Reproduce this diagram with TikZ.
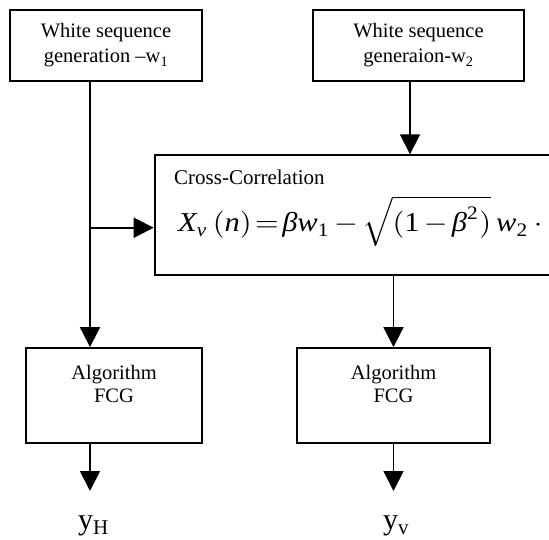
\documentclass[tikz,border=0pt]{standalone}
\usepackage{amsmath}
\usepackage{graphicx}
\usepackage{fontspec}
\setmainfont{Liberation Serif}
\usetikzlibrary{arrows.meta}
\newcommand{\bet}{\text{\itshape β}}
\tikzset{
  box/.style={draw, line width=1.8pt, rectangle, inner sep=0pt, align=center},
  boxtxt/.style={inner sep=0pt, align=center, font=\fontsize{20.5}{25}\selectfont},
  algtxt/.style={inner sep=0pt, align=center, font=\fontsize{20.5}{23}\selectfont},
  arr/.style={line width=1.8pt, -{Triangle[width=20pt,length=20pt]}},
  plain/.style={inner sep=0pt}
}
\begin{document}
\begin{tikzpicture}[x=1pt,y=-1pt]
\clip (0,0) rectangle (549,540);
\useasboundingbox (0,0) rectangle (549,540);
% top boxes
\node[box, boxtxt, minimum width=192pt, minimum height=71pt] (b1) at (106,45.5)
  {White sequence\\generation \textendash w\textsubscript{1}};
\node[box, boxtxt, minimum width=211pt, minimum height=71pt] (b2) at (418.5,45.5)
  {White sequence\\generaion-w\textsubscript{2}};
% cross-correlation box (extends past right edge)
\node[box, minimum width=420pt, minimum height=120pt, anchor=north west] (cc) at (153.7,154.3) {};
\node[plain, anchor=base west, font=\fontsize{21}{21}\selectfont] (cctitle) at (174,185) {Cross-Correlation};
\node[plain, anchor=base west] (ccform) at (178,232)
  {\resizebox{364pt}{36pt}{\fontsize{10}{12}\selectfont\thickmuskip=2mu\medmuskip=2.5mu$\mathit{X}_{\mathit{v}}\,(\mathit{n})=\bet\mathit{w}_{\mathrm{1}}-\sqrt{(\mathrm{1}-\bet^{\mathrm{2}})}\,\mathit{w}_{\mathrm{2}}\,\cdot$}};
% bottom boxes
\node[box, minimum width=176pt, minimum height=95pt] (b4) at (114,395.5) {};
\node[box, minimum width=193pt, minimum height=95pt] (b5) at (393.5,395.5) {};
\node[algtxt, anchor=base] (t4) at (114,402) {Algorithm\\FCG};
\node[algtxt, anchor=base] (t5) at (393.5,402) {Algorithm\\FCG};
% coordinates
\coordinate (j) at (90,227.7);
\coordinate (c2) at (410,120);
\coordinate (e1) at (90,491);
\coordinate (e2) at (393.5,491);
% connectors
\draw[arr] (b1.south -| j) -- (b4.north -| j);
\draw[arr] (j) -- (cc.west |- j);
\draw[arr] (b2.south -| c2) -- (cc.north -| c2);
\draw[arr] (cc.south -| b5) -- (b5.north);
\draw[arr] (b4.south -| e1) -- (e1);
\draw[arr] (b5.south) -- (e2);
% outputs
\node[plain, anchor=base west] (yh) at (78,529)
  {{\fontsize{30}{30}\selectfont y}{\fontsize{21}{21}\selectfont\raisebox{-5pt}{H}}};
\node[plain, anchor=base west] (yv) at (383,529)
  {{\fontsize{30}{30}\selectfont y}{\fontsize{21}{21}\selectfont\raisebox{-5pt}{v}}};
\end{tikzpicture}
\end{document}
